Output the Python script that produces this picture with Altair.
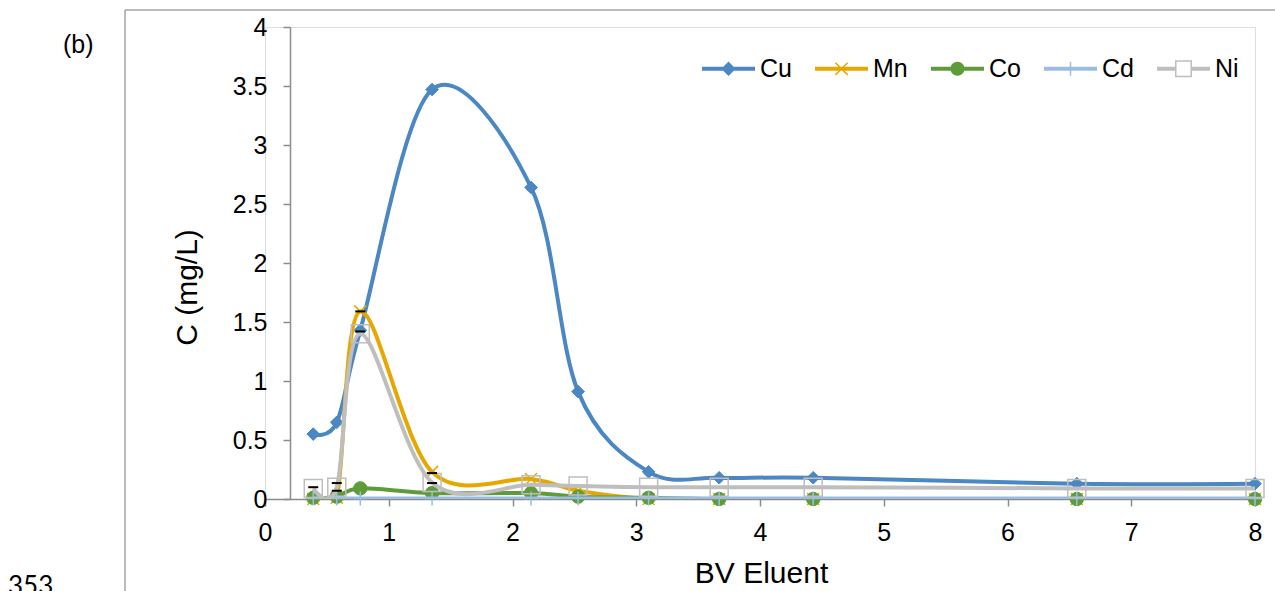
import altair as alt
import pandas as pd

# ---------------- data ----------------
bv = [0.39, 0.58, 0.77, 1.35, 2.15, 2.53, 3.10, 3.67, 4.43, 6.56, 8.00]
cu = [0.55, 0.65, 1.43, 3.47, 2.64, 0.91, 0.23, 0.18, 0.18, 0.13, 0.13]
mn = [0.00, 0.01, 1.59, 0.23, 0.17, 0.07, 0.00, 0.00, 0.00, 0.00, 0.00]
co = [0.01, 0.02, 0.09, 0.05, 0.05, 0.02, 0.01, 0.00, 0.00, 0.00, 0.00]
cd = [0.005, 0.005, 0.005, 0.005, 0.005, 0.005, 0.005, 0.005, 0.005, 0.005, 0.005]
ni = [0.09, 0.10, 1.40, 0.14, 0.12, 0.11, 0.10, 0.10, 0.10, 0.09, 0.09]

series_names = ["Cu", "Mn", "Co", "Cd", "Ni"]
series_values = [cu, mn, co, cd, ni]

# small black dashes (error-bar caps) seen on some points
cap_x = [0.39, 0.58, 0.58, 0.77, 0.77, 1.35, 1.35]
cap_y = [0.10, 0.135, 0.07, 1.59, 1.42, 0.22, 0.135]

x_ticks = [0, 1, 2, 3, 4, 5, 6, 7, 8]
y_ticks = [0, 0.5, 1, 1.5, 2, 2.5, 3, 3.5, 4]
panel_label = ["(b)"]
line_number = ["353"]

# ---------------- styles ----------------
colors = {"Cu": "#4A87C3", "Mn": "#E6A800", "Co": "#5E9C3A", "Cd": "#9BBDE4", "Ni": "#BEBEBE"}
marker = {
    "Cu": dict(shape="diamond", size=160, filled=True, strokeWidth=1),
    "Mn": dict(shape="M-1,-1L1,1M-1,1L1,-1", size=144, filled=False, strokeWidth=1.5),
    "Co": dict(shape="circle", size=180, filled=True, strokeWidth=1),
    "Cd": dict(shape="M0,-1V1M-1,0H1", size=196, filled=False, strokeWidth=1.5),
    "Ni": dict(shape="square", size=324, filled=False, strokeWidth=1.5),
}
legend_paths = [
    "M-1,-0.075H1V0.075H-1Z M0,-0.27L0.27,0L0,0.27L-0.27,0Z",
    "M-1,-0.075H1V0.075H-1Z M-0.21,-0.25L0.25,0.21L0.21,0.25L-0.25,-0.21Z M-0.25,0.21L0.21,-0.25L0.25,-0.21L-0.21,0.25Z",
    "M-1,-0.075H1V0.075H-1Z M0.264,0A0.264,0.264 0 1 1 -0.264,0A0.264,0.264 0 1 1 0.264,0Z",
    "M-1,-0.075H1V0.075H-1Z M-0.028,-0.264H0.028V0.264H-0.028Z",
    "M-1,-0.075H-0.32V0.075H-1Z M0.32,-0.075H1V0.075H0.32Z M-0.32,-0.32H0.32V0.32H-0.32Z M-0.263,-0.263V0.263H0.263V-0.263Z",
]

FONT = "Liberation Sans"
AXIS_GRAY = "#8C8C8C"

rows = []
for name, vals in zip(series_names, series_values):
    for xv, yv in zip(bv, vals):
        rows.append({"series": name, "x": xv, "y": yv})
df = pd.DataFrame(rows)
caps = pd.DataFrame({"x": cap_x, "y": cap_y})

x_enc = alt.X(
    "x:Q",
    scale=alt.Scale(domain=[0, 8], nice=False, zero=False),
    axis=alt.Axis(
        values=x_ticks, grid=False, title="BV Eluent",
        domainColor=AXIS_GRAY, tickColor=AXIS_GRAY, domainWidth=1.5, tickWidth=1.5, tickSize=7,
        labelFont=FONT, labelFontSize=25, labelColor="black", labelPadding=14,
        labelFlush=False, labelOverlap=False,
        titleFont=FONT, titleFontSize=30, titleFontWeight="normal", titleColor="black",
        titleX=496, titleY=83, titleBaseline="alphabetic", titleAlign="center",
    ),
)
y_enc = alt.Y(
    "y:Q",
    scale=alt.Scale(domain=[0, 4], nice=False),
    axis=alt.Axis(
        values=y_ticks, format="~g", grid=False, title="C (mg/L)", offset=-25,
        domainColor=AXIS_GRAY, tickColor=AXIS_GRAY, domainWidth=1.5, tickWidth=1.5, tickSize=7,
        labelFont=FONT, labelFontSize=25, labelColor="black", labelPadding=16,
        labelFlush=False, labelOverlap=False,
        titleFont=FONT, titleFontSize=30, titleFontWeight="normal", titleColor="black",
        titleAngle=-90, titleX=-94, titleY=260, titleBaseline="alphabetic", titleAlign="center",
    ),
)

layers = []
for name in series_names:
    sub = alt.Chart(df).transform_filter(alt.datum.series == name)
    layers.append(
        sub.mark_line(interpolate="cardinal", tension=0, color=colors[name], strokeWidth=4, clip=True)
        .encode(x=x_enc, y=y_enc)
    )
    m = marker[name]
    layers.append(
        sub.mark_point(
            shape=m["shape"], size=m["size"], filled=m["filled"],
            color=colors[name], stroke=colors[name], strokeWidth=m["strokeWidth"], opacity=1,
        ).encode(x=x_enc, y=y_enc)
    )
    if name == "Ni":
        layers.append(
            alt.Chart(caps).mark_point(shape="M-1,0H1", size=100, filled=False,
                                       color="black", strokeWidth=2, opacity=1)
            .encode(x=x_enc, y=y_enc)
        )

legend_def = alt.Legend(
    orient="none", legendX=437, legendY=15, direction="horizontal", columns=5,
    title=None, labelFont=FONT, labelFontSize=25, labelColor="black",
    symbolSize=2809, symbolStrokeWidth=0, symbolOpacity=1, labelOffset=5,
    columnPadding=23, padding=0, rowPadding=0,
)
legend_layer = (
    alt.Chart(df)
    .transform_filter("datum.y > 100")
    .mark_point(filled=True, opacity=1)
    .encode(
        x=x_enc, y=y_enc,
        shape=alt.Shape("series:N", scale=alt.Scale(domain=series_names, range=legend_paths), legend=legend_def),
        fill=alt.Fill("series:N", scale=alt.Scale(domain=series_names, range=[colors[s] for s in series_names]), legend=legend_def),
    )
)
layers.append(legend_layer)

# figure frame and side texts
frame_v = alt.Chart(pd.DataFrame({"k": [0]})).mark_rule(color="#A6A6A6", strokeWidth=1.5).encode(
    x=alt.value(-140), y=alt.value(-17), y2=alt.value(564))
frame_h = alt.Chart(pd.DataFrame({"k": [0]})).mark_rule(color="#A6A6A6", strokeWidth=1.5).encode(
    x=alt.value(-140), x2=alt.value(1010), y=alt.value(-17))
label_b = alt.Chart(pd.DataFrame({"t": panel_label})).mark_text(
    font=FONT, fontSize=25, color="black", align="left", baseline="alphabetic").encode(
    text="t:N", x=alt.value(-202), y=alt.value(26))
label_n = alt.Chart(pd.DataFrame({"t": line_number})).mark_text(
    font="Lato", fontSize=26, color="black", align="left", baseline="alphabetic").encode(
    text="t:N", x=alt.value(-257), y=alt.value(568))

chart = (
    alt.layer(frame_v, frame_h, label_b, label_n, *layers)
    .properties(width=990, height=472, autosize=alt.AutoSizeParams(type="none"),
                padding={"left": 265, "top": 27, "right": 20, "bottom": 92})
    .configure_view(stroke=None)
    .configure(background="white")
)

chart.save("out.html", embed_options={"renderer": "svg", "actions": False})
